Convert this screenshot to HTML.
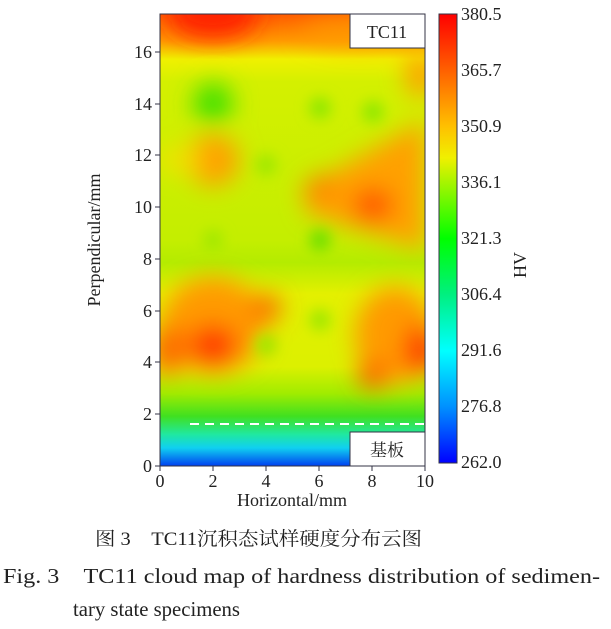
<!DOCTYPE html>
<html><head><meta charset="utf-8"><style>
body{margin:0;background:#fff;width:611px;height:629px;overflow:hidden}
svg{display:block}
text{font-family:"Liberation Serif","Noto Serif CJK SC",serif;fill:#222}
</style></head><body>
<svg width="611" height="629" viewBox="0 0 611 629">
<defs>
<filter id="b1" x="-50%" y="-50%" width="200%" height="200%"><feGaussianBlur stdDeviation="12"/></filter>
<filter id="b3" x="-50%" y="-50%" width="200%" height="200%"><feGaussianBlur stdDeviation="7"/></filter>
<clipPath id="cp"><rect x="160" y="14" width="265" height="452"/></clipPath>
<linearGradient id="bg" x1="0" y1="0" x2="0" y2="1">
<stop offset="0" stop-color="#ff5a00"/>
<stop offset="0.06" stop-color="#ff9a00"/>
<stop offset="0.1" stop-color="#f0f000"/>
<stop offset="0.15" stop-color="#d4f000"/>
<stop offset="0.5" stop-color="#c4ee00"/>
<stop offset="0.55" stop-color="#b4ec00"/>
<stop offset="0.62" stop-color="#e4f000"/>
<stop offset="0.78" stop-color="#dcf000"/>
<stop offset="0.84" stop-color="#a0ec00"/>
<stop offset="0.89" stop-color="#40e020"/>
<stop offset="0.93" stop-color="#20e8a0"/>
<stop offset="0.96" stop-color="#10d0f0"/>
<stop offset="1" stop-color="#0040f0"/>
</linearGradient>
<linearGradient id="cb" x1="0" y1="0" x2="0" y2="1">
<stop offset="0" stop-color="#ff0000"/>
<stop offset="0.125" stop-color="#ff6000"/>
<stop offset="0.25" stop-color="#ffc000"/>
<stop offset="0.32" stop-color="#f0f000"/>
<stop offset="0.5" stop-color="#00ff00"/>
<stop offset="0.625" stop-color="#00f080"/>
<stop offset="0.75" stop-color="#00ffff"/>
<stop offset="0.875" stop-color="#0090ff"/>
<stop offset="1" stop-color="#0000ff"/>
</linearGradient>
</defs>
<g clip-path="url(#cp)">
<rect x="160" y="14" width="265" height="452" fill="url(#bg)"/>
<g filter="url(#b1)">
<ellipse cx="213" cy="14" rx="45" ry="25" fill="#ff2000"/>
<ellipse cx="360" cy="30" rx="60" ry="18" fill="#ffa000" opacity="0.6"/>
<ellipse cx="420" cy="75" rx="15" ry="22" fill="#ffa000"/>
<ellipse cx="213" cy="103" rx="20" ry="20" fill="#40e000"/>
<ellipse cx="213" cy="160" rx="26" ry="26" fill="#ffa000"/>
<ellipse cx="180" cy="160" rx="25" ry="15" fill="#f8e000" opacity="0.7"/>
<polygon points="300,190 425,120 425,250 310,215" fill="#ffa000"/>
<ellipse cx="373" cy="205" rx="20" ry="16" fill="#ff5000"/>
<ellipse cx="320" cy="188" rx="13" ry="13" fill="#ff8000"/>
<ellipse cx="213" cy="325" rx="52" ry="48" fill="#ff9a00"/>
<ellipse cx="213" cy="345" rx="24" ry="20" fill="#ff3800"/>
<ellipse cx="168" cy="350" rx="15" ry="25" fill="#ff6000"/>
<ellipse cx="266" cy="308" rx="15" ry="13" fill="#ff6000"/>
<ellipse cx="395" cy="335" rx="40" ry="48" fill="#ff9a00"/>
<ellipse cx="420" cy="350" rx="15" ry="25" fill="#ff2800"/>
<ellipse cx="373" cy="375" rx="15" ry="13" fill="#ff5000"/>
</g>
<g filter="url(#b3)">
<ellipse cx="266" cy="345" rx="11" ry="11" fill="#a0e800"/>
<ellipse cx="320" cy="320" rx="11" ry="11" fill="#a0e800"/>
<ellipse cx="320" cy="108" rx="11" ry="11" fill="#90e800"/>
<ellipse cx="373" cy="112" rx="11" ry="11" fill="#90e800"/>
<ellipse cx="320" cy="240" rx="11" ry="11" fill="#70e000"/>
<ellipse cx="266" cy="165" rx="11" ry="11" fill="#a0e800"/>
<ellipse cx="213" cy="240" rx="10" ry="10" fill="#a0e800"/>
</g>
</g>
<rect x="160" y="14" width="265" height="452" fill="none" stroke="#334" stroke-width="1"/>
<line x1="190" y1="424" x2="425" y2="424" stroke="#fff" stroke-width="2" stroke-dasharray="9,6"/>
<rect x="350" y="14" width="75" height="34" fill="#fff" stroke="#334"/>
<text x="387" y="38" font-size="18" text-anchor="middle">TC11</text>
<rect x="350" y="432" width="75" height="34" fill="#fff" stroke="#334"/>
<text x="387" y="456" font-size="17" text-anchor="middle">基板</text>
<g stroke="#334" stroke-width="1">
<line x1="160" y1="466" x2="160" y2="471"/><line x1="213" y1="466" x2="213" y2="471"/><line x1="266" y1="466" x2="266" y2="471"/><line x1="319" y1="466" x2="319" y2="471"/><line x1="372" y1="466" x2="372" y2="471"/><line x1="425" y1="466" x2="425" y2="471"/>
<line x1="155" y1="466" x2="160" y2="466"/><line x1="155" y1="414" x2="160" y2="414"/><line x1="155" y1="362" x2="160" y2="362"/><line x1="155" y1="311" x2="160" y2="311"/><line x1="155" y1="259" x2="160" y2="259"/><line x1="155" y1="207" x2="160" y2="207"/><line x1="155" y1="155" x2="160" y2="155"/><line x1="155" y1="104" x2="160" y2="104"/><line x1="155" y1="52" x2="160" y2="52"/>
</g>
<g font-size="18" text-anchor="end">
<text x="152" y="472">0</text><text x="152" y="420">2</text><text x="152" y="368">4</text><text x="152" y="317">6</text><text x="152" y="265">8</text><text x="152" y="213">10</text><text x="152" y="161">12</text><text x="152" y="110">14</text><text x="152" y="58">16</text>
</g>
<g font-size="18" text-anchor="middle">
<text x="160" y="487">0</text><text x="213" y="487">2</text><text x="266" y="487">4</text><text x="319" y="487">6</text><text x="372" y="487">8</text><text x="425" y="487">10</text>
</g>
<text x="292" y="506" font-size="18" text-anchor="middle">Horizontal/mm</text>
<text transform="translate(100,240) rotate(-90)" font-size="18" text-anchor="middle">Perpendicular/mm</text>
<rect x="439" y="14" width="18" height="449" fill="url(#cb)" stroke="#334"/>
<g font-size="18">
<text x="461" y="20">380.5</text><text x="461" y="76">365.7</text><text x="461" y="132">350.9</text><text x="461" y="188">336.1</text><text x="461" y="244">321.3</text><text x="461" y="300">306.4</text><text x="461" y="356">291.6</text><text x="461" y="412">276.8</text><text x="461" y="468">262.0</text>
</g>
<text transform="translate(526,265) rotate(-90)" font-size="18" text-anchor="middle">HV</text>
<text x="95" y="545" font-size="19" textLength="327" lengthAdjust="spacingAndGlyphs">图 3　TC11沉积态试样硬度分布云图</text>
<text x="3" y="583" font-size="21" textLength="597" lengthAdjust="spacingAndGlyphs">Fig. 3　TC11 cloud map of hardness distribution of sedimen-</text>
<text x="73" y="616" font-size="21" textLength="167" lengthAdjust="spacingAndGlyphs">tary state specimens</text>
</svg>
</body></html>
